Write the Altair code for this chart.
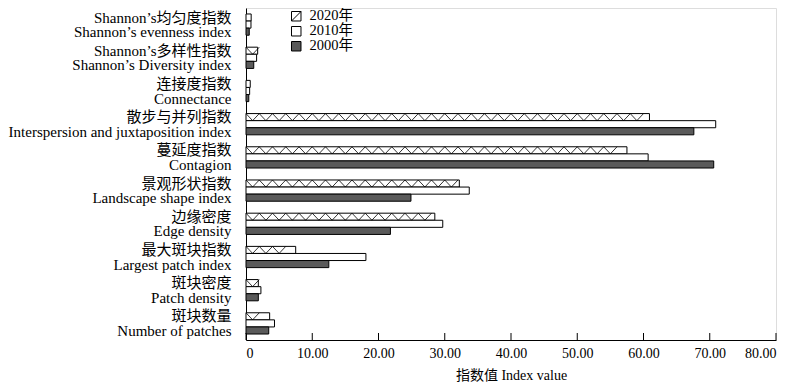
import altair as alt
import pandas as pd

# ---- data ----
years = ["2020年", "2010年", "2000年"]
cat_cn = ["Shannon’s均匀度指数", "Shannon’s多样性指数", "连接度指数", "散步与并列指数",
          "蔓延度指数", "景观形状指数", "边缘密度", "最大斑块指数", "斑块密度", "斑块数量"]
cat_en = ["Shannon’s evenness index", "Shannon’s Diversity index", "Connectance",
          "Interspersion and juxtaposition index", "Contagion", "Landscape shape index",
          "Edge density", "Largest patch index", "Patch density", "Number of patches"]
v2020 = [0.78, 1.76, 0.64, 60.9, 57.5, 32.2, 28.5, 7.5, 1.86, 3.57]
v2010 = [0.75, 1.60, 0.55, 70.9, 60.7, 33.7, 29.7, 18.1, 2.25, 4.30]
v2000 = [0.49, 1.17, 0.42, 67.6, 70.6, 24.9, 21.8, 12.5, 1.86, 3.43]
tick_vals = [0, 10, 20, 30, 40, 50, 60, 70, 80]

cat_order = [c + "|" + e for c, e in zip(cat_cn, cat_en)]
rows = []
for i, key in enumerate(cat_order):
    for yr, vals in zip(years, [v2020, v2010, v2000]):
        rows.append({"cat": key, "year": yr, "value": vals[i]})
df = pd.DataFrame(rows)

# hatch decoration positions for the 2020 bars (period of 2 index units)
hrows = []
for i, key in enumerate(cat_order):
    c = 1.0
    while c + 1 <= v2020[i] + 0.25:
        hrows.append({"cat": key, "year": "2020年", "hx": c})
        c += 2.0
hdf = pd.DataFrame(hrows)

W, H = 530, 332
FONT = "'Liberation Serif', 'Times New Roman', 'Noto Sans CJK SC', serif"

fill_scale = alt.Scale(domain=years, range=["#ffffff", "#ffffff", "#5a5a5a"])
diag = "M-1,-1L1,-1L1,1L-1,1Z M-1,1L1,-1"
shape_scale = alt.Scale(domain=years, range=[diag, "square", "square"])
stroke_scale = alt.Scale(domain=years, range=["#000000", "#000000", "#000000"])
leg_props = dict(orient="none", legendX=43, legendY=1, title=None, symbolSize=90,
                 symbolStrokeColor="black", symbolStrokeWidth=1, symbolOpacity=1,
                 labelFont=FONT, labelFontSize=14.5, labelColor="black",
                 rowPadding=0, labelOffset=6, padding=0)

y_enc = alt.Y("cat:N", sort=cat_order,
              scale=alt.Scale(paddingInner=0.36, paddingOuter=0.18),
              axis=alt.Axis(title=None, ticks=False, labelExpr="split(datum.label, '|')",
                            labelPadding=15, labelFontSize=15, labelLineHeight=14.5,
                            labelOffset=-7,
                            labelFont=FONT, labelColor="black", domainColor="black",
                            labelLimit=400, labelAlign="right", labelBaseline="middle"))
y_plain = alt.Y("cat:N", sort=cat_order)
yoff = alt.YOffset("year:N", sort=years, scale=alt.Scale(domain=years))

x_enc = alt.X("value:Q", scale=alt.Scale(domain=[0, 80], nice=False),
              axis=alt.Axis(values=tick_vals, ticks=False, grid=False,
                            labelExpr="datum.value == 0 ? '0' : format(datum.value, '.2f')",
                            labelFont=FONT, labelFontSize=14, labelColor="black",
                            labelPadding=6, domainColor="black",
                            title="指数值 Index value", titleFont=FONT, titleFontSize=14,
                            titleFontWeight="normal", titleColor="black", titlePadding=8))

bars = alt.Chart(df).mark_bar(stroke="black", strokeWidth=1).encode(
    x=x_enc, y=y_enc, yOffset=yoff,
    fill=alt.Fill("year:N", scale=fill_scale, legend=alt.Legend(**leg_props)),
)

hatch = alt.Chart(hdf).mark_point(
    shape="M-1,-0.53L0,0.53L1,-0.53", size=176, stroke="black",
    strokeWidth=0.8, filled=False, opacity=1,
).encode(
    x=alt.X("hx:Q"), y=y_plain, yOffset=yoff,
)

ticks = alt.Chart(pd.DataFrame({"t": tick_vals})).mark_rule(
    color="black", strokeWidth=1
).encode(x=alt.X("t:Q"), y=alt.value(H - 7), y2=alt.value(H))

legend_layer = alt.Chart(df).mark_point(opacity=0, size=1, strokeWidth=1).encode(
    x=alt.X("value:Q"), y=y_plain, yOffset=yoff,
    fill=alt.Fill("year:N", scale=fill_scale, legend=alt.Legend(**leg_props)),
    stroke=alt.Stroke("year:N", scale=stroke_scale, legend=alt.Legend(**leg_props)),
    shape=alt.Shape("year:N", scale=shape_scale, legend=alt.Legend(**leg_props)),
)

chart = alt.layer(bars, hatch, ticks, legend_layer).properties(
    width=W, height=H,
    padding={"top": 0, "left": 0, "right": 5, "bottom": 0},
).configure_view(stroke=None).configure(background="white")

chart.save("out.html", embed_options={"renderer": "svg", "actions": False})
